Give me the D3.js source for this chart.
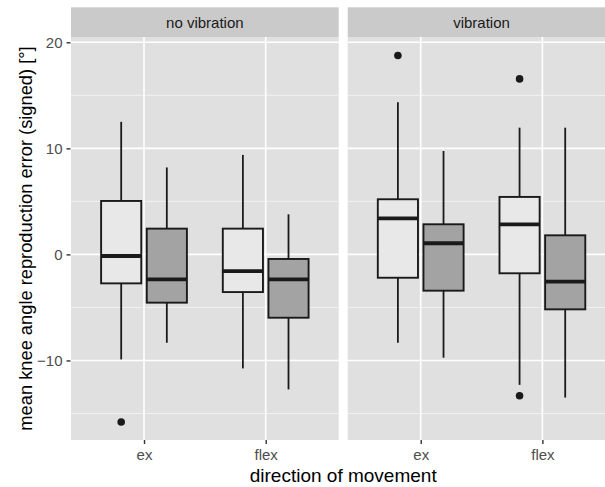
<!DOCTYPE html>
<html><head><meta charset="utf-8">
<script src="https://cdn.jsdelivr.net/npm/d3@7"></script>
<style>body{margin:0;background:#fff}svg{display:block}text{font-family:"Liberation Sans",Arial,sans-serif}</style>
</head><body><div id="chart"></div>
<script>
const facets = ["no vibration", "vibration"];
const directions = ["ex", "flex"];
const groups = ["light", "dark"];
const groupFill = ["#e8e8e8", "#a3a3a3"];
// one entry per box: facet x direction x group
const boxFacet = ["no vibration","no vibration","no vibration","no vibration","vibration","vibration","vibration","vibration"];
const boxDir = ["ex","ex","flex","flex","ex","ex","flex","flex"];
const boxGroup = ["light","dark","light","dark","light","dark","light","dark"];
const whiskerLow = [-9.9, -8.33, -10.75, -12.73, -8.33, -9.74, -12.3, -13.5];
const q1 = [-2.73, -4.55, -3.55, -5.97, -2.2, -3.42, -1.78, -5.18];
const median = [-0.15, -2.35, -1.57, -2.35, 3.4, 1.05, 2.84, -2.57];
const q3 = [5.04, 2.43, 2.43, -0.43, 5.2, 2.84, 5.42, 1.8];
const whiskerHigh = [12.5, 8.2, 9.38, 3.78, 14.35, 9.75, 11.95, 11.95];
const outliers = [[-15.8], [], [], [], [18.75], [], [16.55, -13.33], []];
const yMajor = [-10, 0, 10, 20];
const yMinor = [-15, -5, 5, 15];
const yDomain = [-17.5, 20.5];

const W = 605, H = 487;
const svg = d3.select("#chart").append("svg").attr("width", W).attr("height", H);
const panelTop = 37, panelBottom = 440, stripTop = 7.3;
const panelW = 267.7, gap = 9, left0 = 71;
const y = d3.scaleLinear().domain(yDomain).range([panelBottom, panelTop]);
const fill = d3.scaleOrdinal().domain(groups).range(groupFill);
const ink = "#1a1a1a";

facets.forEach((f, fi) => {
  const x0 = left0 + fi * (panelW + gap);
  const x = d3.scalePoint().domain(directions).range([x0, x0 + panelW]).padding(0.6);
  const step = x.step();
  const xg = d3.scaleBand().domain(groups).range([-0.375 * step, 0.375 * step]);
  const bw = xg.bandwidth() * 0.88;
  const g = svg.append("g");
  g.append("rect").attr("x", x0).attr("y", panelTop).attr("width", panelW).attr("height", panelBottom - panelTop).attr("fill", "#e0e0e0");
  yMinor.forEach(v => g.append("line").attr("x1", x0).attr("x2", x0 + panelW).attr("y1", y(v)).attr("y2", y(v)).attr("stroke", "#f4f4f4").attr("stroke-width", 0.8));
  yMajor.forEach(v => g.append("line").attr("x1", x0).attr("x2", x0 + panelW).attr("y1", y(v)).attr("y2", y(v)).attr("stroke", "#ffffff").attr("stroke-width", 1.6));
  directions.forEach(d => g.append("line").attr("x1", x(d)).attr("x2", x(d)).attr("y1", panelTop).attr("y2", panelBottom).attr("stroke", "#ffffff").attr("stroke-width", 1.6));
  // strip
  g.append("rect").attr("x", x0).attr("y", stripTop).attr("width", panelW).attr("height", panelTop - stripTop).attr("fill", "#cacaca");
  g.append("text").attr("x", x0 + panelW / 2).attr("y", 28).attr("text-anchor", "middle").attr("font-size", 15).attr("fill", "#1a1a1a").text(f);
  // x axis
  const ax = d3.axisBottom(x).tickSize(4).tickPadding(5.3);
  const axg = svg.append("g").attr("transform", `translate(0,${panelBottom})`).call(ax);
  axg.attr("font-size", null).attr("font-family", null);
  axg.select(".domain").remove();
  axg.selectAll(".tick line").attr("stroke", "#333").attr("stroke-width", 1.4);
  axg.selectAll(".tick text").attr("fill", "#4d4d4d").attr("font-size", 15);
  // boxes
  boxFacet.forEach((bf, i) => {
    if (bf !== f) return;
    const cx = x(boxDir[i]) + xg(boxGroup[i]) + xg.bandwidth() / 2;
    const b = g.append("g");
    b.append("line").attr("x1", cx).attr("x2", cx).attr("y1", y(whiskerHigh[i])).attr("y2", y(q3[i])).attr("stroke", ink).attr("stroke-width", 1.8);
    b.append("line").attr("x1", cx).attr("x2", cx).attr("y1", y(q1[i])).attr("y2", y(whiskerLow[i])).attr("stroke", ink).attr("stroke-width", 1.8);
    b.append("rect").attr("x", cx - bw / 2).attr("y", y(q3[i])).attr("width", bw).attr("height", y(q1[i]) - y(q3[i]))
      .attr("fill", fill(boxGroup[i])).attr("stroke", ink).attr("stroke-width", 1.9);
    b.append("line").attr("x1", cx - bw / 2).attr("x2", cx + bw / 2).attr("y1", y(median[i])).attr("y2", y(median[i])).attr("stroke", ink).attr("stroke-width", 3.8);
    outliers[i].forEach(o => b.append("circle").attr("cx", cx).attr("cy", y(o)).attr("r", 3.8).attr("fill", ink));
  });
});
// y axis
const ay = d3.axisLeft(y).tickValues(yMajor).tickSize(4).tickPadding(4).tickFormat(d => d < 0 ? "\u2212" + Math.abs(d) : d);
const ayg = svg.append("g").attr("transform", `translate(${left0 - 0.5},0)`).call(ay);
ayg.attr("font-size", null).attr("font-family", null);
ayg.select(".domain").remove();
ayg.selectAll(".tick line").attr("stroke", "#333").attr("stroke-width", 1.4);
ayg.selectAll(".tick text").attr("fill", "#4d4d4d").attr("font-size", 15);
// titles
svg.append("text").attr("x", left0 + (2 * panelW + gap) / 2).attr("y", 482).attr("text-anchor", "middle").attr("font-size", 19).attr("fill", "#000").text("direction of movement");
svg.append("text").attr("transform", `translate(31.5,${(panelTop + panelBottom) / 2}) rotate(-90)`).attr("text-anchor", "middle").attr("font-size", 18.3).attr("fill", "#000").text("mean knee angle reproduction error (signed) [°]");
</script></body></html>
